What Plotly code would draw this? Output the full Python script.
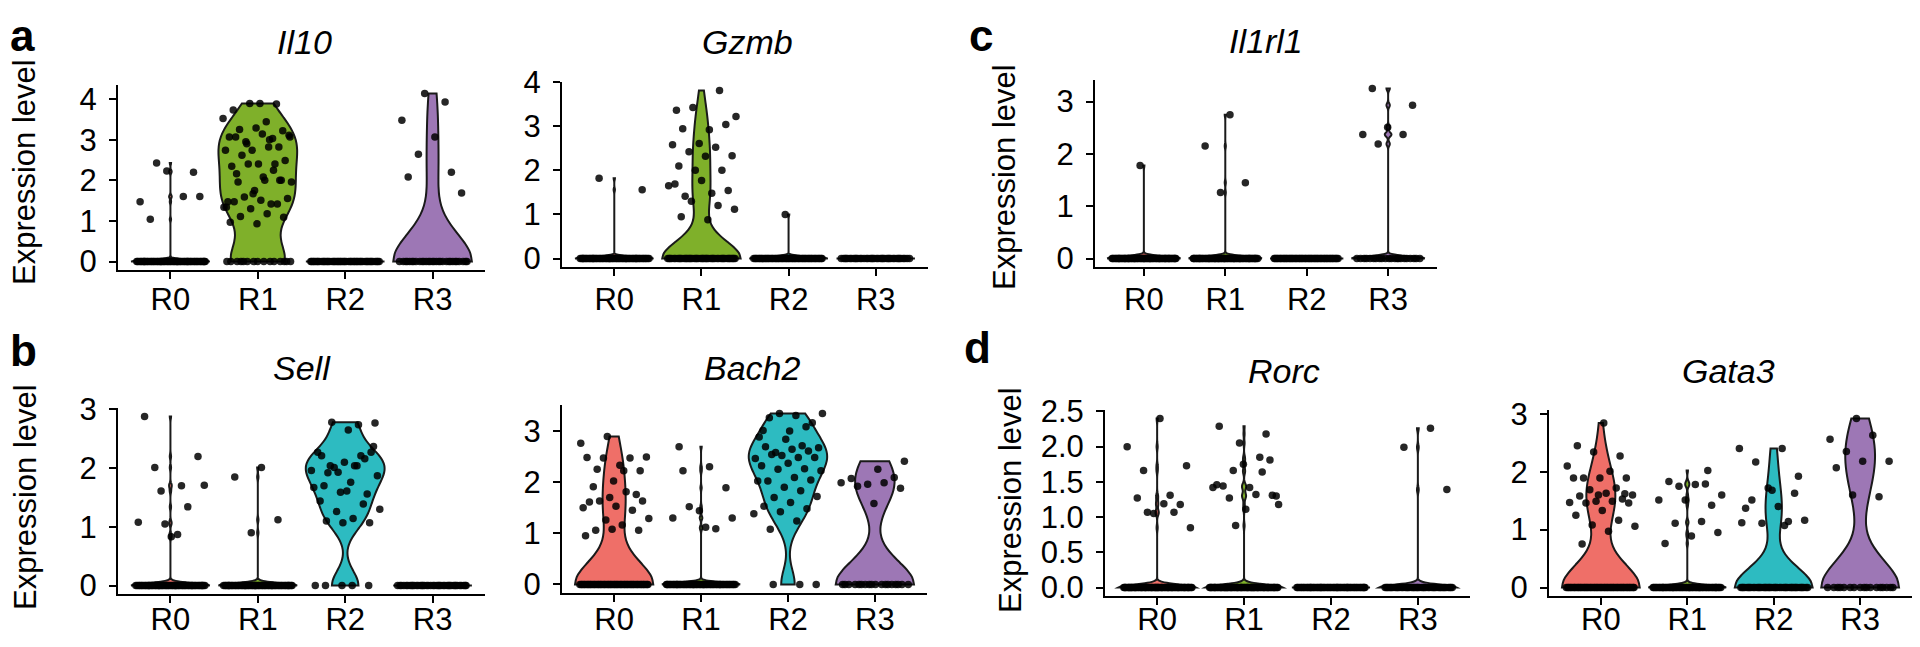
import plotly.graph_objects as go

# ---------------- data ----------------
GROUPS = ["R0", "R1", "R2", "R3"]

IL10_R0 = [1.04, 2.2, 2.23, 1.47, 1.6, 2.43, 1.6]
IL10_R1 = [3.89, 3.73, 3.88, 3.89, 3.52, 3.44, 3.25, 3.22, 3.29, 3.07, 3.03, 2.95, 3.11, 3.14,
           3.07, 2.82, 2.74, 2.74, 2.82, 2.62, 2.49, 2.40, 2.35, 2.40, 2.40, 1.96, 2.0, 1.96,
           2.0, 1.75, 1.47, 1.42, 1.59, 1.55, 1.51, 1.47, 1.42, 1.30, 1.34, 1.18, 1.11, 1.09,
           0.93, 0.97, 2.25, 2.9, 3.07, 2.08, 2.16, 2.0, 1.67, 1.34, 3.0]
IL10_R2 = []
IL10_R3 = [3.48, 3.93, 2.64, 1.69, 3.07, 2.08, 2.2, 4.14]
IL10_ZEROS = [60, 15, 50, 30]

GZMB_R0 = [1.82, 1.56]
GZMB_R1 = [3.36, 3.81, 3.42, 3.22, 2.92, 2.94, 3.04, 2.61, 2.58, 2.52, 2.42, 2.33, 2.32, 2.1,
           2.0, 2.0, 1.65, 1.48, 1.41, 1.54, 1.77, 1.69, 1.2, 1.3, 1.12, 0.88, 0.95]
GZMB_R2 = [1.0]
GZMB_R3 = []
GZMB_ZEROS = [60, 45, 55, 40]

IL1RL1_R0 = [1.78]
IL1RL1_R1 = [2.75, 2.15, 1.45, 1.26]
IL1RL1_R2 = []
IL1RL1_R3 = [3.25, 2.93, 2.51, 2.37, 2.37, 2.19]
IL1RL1_ZEROS = [65, 65, 55, 22]

SELL_R0 = [1.05, 1.08, 1.70, 2.01, 2.2, 0.83, 2.88, 1.34, 1.61, 1.71, 0.87]
SELL_R1 = [2.01, 1.85, 1.12, 0.9]
SELL_R2 = [2.74, 2.78, 2.77, 2.65, 2.21, 2.16, 1.93, 1.96, 2.04, 1.92, 2.27, 2.1, 2.27, 2.21,
           2.01, 1.87, 1.76, 1.7, 1.56, 1.59, 1.67, 2.04, 2.04, 2.37, 1.61, 1.44, 1.39, 1.26,
           1.3, 1.14, 1.1, 1.07, 1.07]
SELL_R3 = []
SELL_ZEROS = [60, 60, 5, 40]

BACH2_R0 = [2.89, 2.76, 2.22, 2.25, 2.22, 2.02, 2.48, 2.47, 2.47, 2.49, 2.33, 1.91, 1.76, 1.70,
            1.5, 1.81, 1.63, 1.63, 1.53, 1.61, 1.45, 1.26, 1.29, 1.16, 1.06, 1.06, 1.08, 0.95]
BACH2_R1 = [2.3, 2.22, 1.89, 1.44, 1.3, 1.09, 1.52, 1.3, 1.12, 2.69]
BACH2_R2 = [3.0, 3.01, 3.08, 3.34, 3.34, 3.3, 3.26, 3.16, 2.84, 2.88, 2.71, 2.58, 2.67, 2.64,
            2.69, 2.61, 2.52, 2.46, 2.48, 2.54, 2.48, 2.37, 2.32, 2.26, 2.25, 2.22, 2.09, 2.02,
            2.04, 1.9, 2.02, 1.83, 1.7, 1.72, 1.6, 1.53, 1.48, 1.42, 1.38, 1.24, 1.08]
BACH2_R3 = [2.41, 2.25, 2.07, 2.09, 1.96, 1.99, 1.99, 1.92, 1.88, 1.58]
BACH2_ZEROS = [55, 60, 3, 18]

RORC_R0 = [1.07, 1.07, 0.85, 1.19, 1.27, 1.18, 1.05, 2.0, 1.31, 1.66, 1.73, 2.40]
RORC_R1 = [1.81, 1.75, 1.46, 1.85, 1.66, 1.30, 1.42, 1.44, 2.18, 2.05, 1.42, 1.32, 1.27, 1.31,
           1.11, 2.29, 1.64, 0.88, 1.18]
RORC_R2 = []
RORC_R3 = [2.26, 1.99, 1.39]
RORC_ZEROS = [70, 70, 60, 45]

GATA3_R0 = [2.84, 2.45, 2.27, 2.34, 2.1, 2.01, 1.89, 1.89, 1.89, 1.89, 1.72, 1.69, 1.6, 1.63,
            1.58, 1.53, 1.49, 1.47, 1.49, 1.46, 1.46, 1.33, 1.25, 1.16, 1.08, 1.06, 0.97, 0.75,
            1.62, 1.6]
GATA3_R1 = [1.79, 1.75, 1.6, 1.78, 1.83, 1.42, 1.51, 1.51, 1.14, 1.11, 0.95, 0.89, 0.76, 2.02]
GATA3_R2 = [2.4, 2.4, 2.17, 1.92, 1.68, 1.37, 1.14, 1.11, 1.16, 1.4, 1.51, 1.63, 1.72, 1.12, 1.07]
GATA3_R3 = [2.92, 2.56, 2.63, 2.35, 2.18, 2.18, 2.07, 1.57, 1.6]
GATA3_ZEROS = [55, 60, 44, 17]

# ---------------- style ----------------
PAGE_W, PAGE_H = 1920, 647
BODY = 8                      # default page margin of the browser
W, H = PAGE_W - 2 * BODY, PAGE_H - 2 * BODY
FONT = "Liberation Sans, Arial, Helvetica, sans-serif"
COLORS = ["#EF6F68", "#7FB02A", "#2DBBC1", "#9D77B5"]
OUTLINE = "#1a1a1a"

BW = {
    "Il10": [0.04, 0.5, None, 0.7],
    "Gzmb": [0.04, 0.4, 0.04, None],
    "Il1rl1": [0.04, 0.04, None, 0.04],
    "Sell": [0.04, 0.04, 0.25, None],
    "Bach2": [0.45, 0.04, 0.3, 0.45],
    "Rorc": [0.04, 0.04, None, 0.04],
    "Gata3": [0.4, 0.04, 0.35, 0.47],
}

# panel boxes in page pixels: x_left, x_right, y_top, y_bottom ; title centre ; tick step ; label standoff
PANELS = [
    ("Il10", [IL10_R0, IL10_R1, IL10_R2, IL10_R3], IL10_ZEROS, (118, 485, 85, 270), (304, 42), 1, -6),
    ("Gzmb", [GZMB_R0, GZMB_R1, GZMB_R2, GZMB_R3], GZMB_ZEROS, (562, 928, 82, 267), (747, 42), 1, -3),
    ("Il1rl1", [IL1RL1_R0, IL1RL1_R1, IL1RL1_R2, IL1RL1_R3], IL1RL1_ZEROS, (1095, 1437, 80, 267), (1266, 41), 1, -3),
    ("Sell", [SELL_R0, SELL_R1, SELL_R2, SELL_R3], SELL_ZEROS, (118, 485, 408, 594), (302, 368), 1, -10),
    ("Bach2", [BACH2_R0, BACH2_R1, BACH2_R2, BACH2_R3], BACH2_ZEROS, (562, 927, 405, 593), (752, 368), 1, -9),
    ("Rorc", [RORC_R0, RORC_R1, RORC_R2, RORC_R3], RORC_ZEROS, (1105, 1470, 410, 596), (1284, 371), 0.5, -12),
    ("Gata3", [GATA3_R0, GATA3_R1, GATA3_R2, GATA3_R3], GATA3_ZEROS, (1549, 1915, 410, 596), (1728, 371), 1, -12),
]

YTITLES = [(25, 172), (25, 497), (1005, 177), (1010, 500)]
LETTERS = [("a", 6, 36), ("b", 6, 350), ("c", 967, 36), ("d", 962, 347)]


def px(x):
    return min(1.0, max(0.0, (x - BODY) / W))


def py(y):
    return min(1.0, max(0.0, 1 - (y - BODY) / H))


def jitter(n, phase):
    g = 0.6180339887498949
    return [((k * g + phase) % 1.0 - 0.5) * 0.8 for k in range(n)]


fig = go.Figure()
annotations = []

for i, (gene, groups, zeros, box, tpos, dtick, xstand) in enumerate(PANELS):
    n = i + 1
    xa, ya = ("x" if n == 1 else f"x{n}"), ("y" if n == 1 else f"y{n}")
    ymax = max(max(g) if g else 0 for g in groups)
    for j, (vals, nz) in enumerate(zip(groups, zeros)):
        yv = [0.0] * nz + list(vals)
        vkw = dict(bandwidth=BW[gene][j]) if BW[gene][j] is not None else {}
        fig.add_trace(go.Violin(
            x0=j, y=yv, xaxis=xa, yaxis=ya, width=0.9, side="both",
            spanmode="hard", scalemode="width",
            scalegroup=f"{gene}_{j}", points=False, hoverinfo="skip",
            fillcolor=COLORS[j], line=dict(color=OUTLINE, width=2),
            box_visible=False, meanline_visible=False, showlegend=False, **vkw,
        ))
    for j, (vals, nz) in enumerate(zip(groups, zeros)):
        yv = [0.0] * nz + list(vals)
        offs = jitter(len(yv), 0.13 * (j + 1) + 0.07 * i)
        fig.add_trace(go.Scatter(
            x=[j + o for o in offs], y=yv, xaxis=xa, yaxis=ya, mode="markers",
            marker=dict(color="rgba(0,0,0,0.85)", size=7.5, line=dict(width=0)),
            hoverinfo="skip", showlegend=False,
        ))

    x0, x1, yt, yb = box
    axis_common = dict(
        showline=True, linecolor="black", linewidth=2, ticks="outside", ticklen=7,
        tickwidth=2, tickcolor="black", showgrid=False, zeroline=False, automargin=False,
        tickfont=dict(family=FONT, size=31, color="black"), fixedrange=True,
    )
    fig.update_layout(**{
        ("xaxis" if n == 1 else f"xaxis{n}"): dict(
            domain=[px(x0), px(x1)], anchor=ya, range=[-0.6, 3.6], type="linear",
            tickvals=[0, 1, 2, 3], ticktext=GROUPS, ticklabelstandoff=xstand, **axis_common),
        ("yaxis" if n == 1 else f"yaxis{n}"): dict(
            domain=[py(yb), py(yt)], anchor=xa, range=[-0.05 * ymax, 1.05 * ymax],
            tick0=0, dtick=dtick, tickformat=(".1f" if dtick < 1 else "d"),
            ticklabelstandoff=6, **axis_common),
    })
    annotations.append(dict(
        text=gene, x=px(tpos[0]), y=py(tpos[1]), xref="paper", yref="paper",
        xanchor="center", yanchor="middle", showarrow=False,
        font=dict(family=FONT, size=34, color="black", style="italic"),
    ))

for (xc, yc) in YTITLES:
    annotations.append(dict(
        text="Expression level", x=px(xc), y=py(yc), xref="paper", yref="paper",
        xanchor="center", yanchor="middle", textangle=-90, showarrow=False,
        font=dict(family=FONT, size=31, color="black"),
    ))

for (t, xl, yc) in LETTERS:
    annotations.append(dict(
        text=f"<b>{t}</b>", x=px(xl), y=py(yc), xref="paper", yref="paper",
        xanchor="left", yanchor="middle", showarrow=False,
        font=dict(family=FONT, size=44, color="black"),
    ))

fig.update_layout(
    template="none",
    width=W, height=H, margin=dict(l=0, r=0, t=0, b=0, pad=0, autoexpand=False),
    paper_bgcolor="white", plot_bgcolor="white", violinmode="overlay",
    annotations=annotations, showlegend=False,
)

fig.write_html("out.html", config={"displayModeBar": False})
